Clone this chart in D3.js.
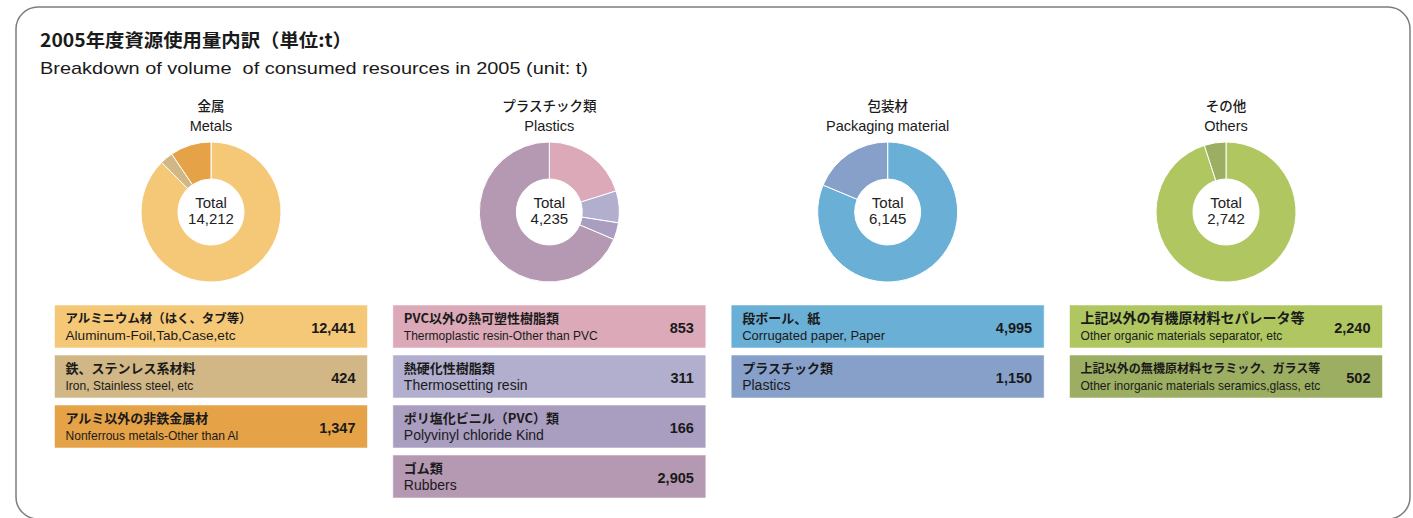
<!DOCTYPE html>
<html>
<head>
<meta charset="utf-8">
<script src="https://cdn.jsdelivr.net/npm/d3@7"></script>
<style>
  body { margin: 0; background: #fff; }
  svg { display: block; }
</style>
</head>
<body>
<script>
var svgWidth = 1413;
var svgHeight = 518;

// group titles
var groupsJa = ["金属", "プラスチック類", "包装材", "その他"];
var groupsEn = ["Metals", "Plastics", "Packaging material", "Others"];

// items of each group
var itemsJa = [
  ["アルミニウム材（はく、タブ等）", "鉄、ステンレス系材料", "アルミ以外の非鉄金属材"],
  ["PVC以外の熱可塑性樹脂類", "熱硬化性樹脂類", "ポリ塩化ビニル（PVC）類", "ゴム類"],
  ["段ボール、紙", "プラスチック類"],
  ["上記以外の有機原材料セパレータ等", "上記以外の無機原材料セラミック、ガラス等"]
];
var itemsEn = [
  ["Aluminum-Foil,Tab,Case,etc", "Iron, Stainless steel, etc", "Nonferrous metals-Other than Al"],
  ["Thermoplastic resin-Other than PVC", "Thermosetting resin", "Polyvinyl chloride Kind", "Rubbers"],
  ["Corrugated paper, Paper", "Plastics"],
  ["Other organic materials separator, etc", "Other inorganic materials seramics,glass, etc"]
];
var itemValues = [
  [12441, 424, 1347],
  [853, 311, 166, 2905],
  [4995, 1150],
  [2240, 502]
];
// slice sizes as drawn in the rings (the "Others" ring in the source
// shows the second slice much thinner than its label says)
var donutValues = [
  [12441, 424, 1347],
  [853, 311, 166, 2905],
  [4995, 1150],
  [2605, 137]
];

// styles
var itemColors = [
  ["#F5C878", "#D1B785", "#E5A246"],
  ["#DBA9B7", "#B1AECE", "#A99DC0", "#B598B2"],
  ["#6AAFD6", "#86A0CA"],
  ["#AFC661", "#9CAE62"]
];
// max widths of the text lines in the boxes
var enMaxW = [
  [170, 128, 173],
  [194, 999, 999, 999],
  [143, 999],
  [202, 240]
];
var jaSize = [13, 13, 13, 14];
var jaMaxW = [
  [186, 999, 999],
  [182, 999, 999, 999],
  [999, 999],
  [232, 240]
];

var jpFont = "'Noto Sans CJK JP', sans-serif";
var enFont = "'Liberation Sans', Arial, sans-serif";

// shrink the font of a text until it fits its width
function fit(sel, maxW) {
  sel.each(function(d, i) {
    var w = typeof maxW === "function" ? maxW(d, i) : maxW;
    var len = this.getComputedTextLength();
    if (len > w) {
      var fs = parseFloat(d3.select(this).attr("font-size"));
      d3.select(this).attr("font-size", (fs * w / len).toFixed(2));
    }
  });
}

var svg = d3.select("body")
  .append("svg")
  .attr("width", svgWidth)
  .attr("height", svgHeight);

// frame
svg.append("rect")
  .attr("x", 16)
  .attr("y", 7)
  .attr("width", 1394)
  .attr("height", 512)
  .attr("rx", 22)
  .attr("fill", "none")
  .attr("stroke", "#7d7d7d")
  .attr("stroke-width", 1.5);

svg.append("text")
  .attr("x", 40)
  .attr("y", 47)
  .attr("font-family", jpFont)
  .attr("font-weight", 700)
  .attr("font-size", 18.5)
  .attr("fill", "#1a1a1a")
  .text("2005年度資源使用量内訳（単位:t）")
  .attr("textLength", 312)
  .attr("lengthAdjust", "spacingAndGlyphs");

svg.append("text")
  .attr("x", 40)
  .attr("y", 74)
  .attr("font-family", enFont)
  .attr("font-size", 17)
  .attr("fill", "#1a1a1a")
  .style("white-space", "pre")
  .text("Breakdown of volume  of consumed resources in 2005 (unit: t)")
  .attr("textLength", 548)
  .attr("lengthAdjust", "spacingAndGlyphs");

// column centres
var xCol = d3.scalePoint()
  .domain(groupsEn)
  .range([211, 1226]);

var cy = 212;
var boxW = 313, boxH = 43, boxTop = 305, boxStep = 50;

var pie = d3.pie().sort(null).value(function(d) { return d; });
var arc = d3.arc().innerRadius(33).outerRadius(70);

groupsEn.forEach(function(g, gi) {
  var cx = xCol(g);
  var col = svg.append("g");

  col.append("text")
    .attr("x", cx).attr("y", 111)
    .attr("text-anchor", "middle")
    .attr("font-family", jpFont)
    .attr("font-weight", 500)
    .attr("font-size", 13.5)
    .attr("fill", "#1a1a1a")
    .text(groupsJa[gi]);

  col.append("text")
    .attr("x", cx).attr("y", 131)
    .attr("text-anchor", "middle")
    .attr("font-family", enFont)
    .attr("font-size", 14.5)
    .attr("fill", "#1a1a1a")
    .text(g);

  // donut
  var donut = col.append("g")
    .attr("transform", "translate(" + cx + "," + cy + ")");

  donut.selectAll("path")
    .data(pie(donutValues[gi]))
    .enter().append("path")
    .attr("d", arc)
    .attr("fill", function(d, i) { return itemColors[gi][i]; })
    .attr("stroke", "#fff")
    .attr("stroke-width", 1);

  var total = d3.sum(itemValues[gi]);
  donut.append("text")
    .attr("y", -4)
    .attr("text-anchor", "middle")
    .attr("font-family", enFont)
    .attr("font-size", 15)
    .attr("fill", "#222")
    .text("Total");
  donut.append("text")
    .attr("y", 12)
    .attr("text-anchor", "middle")
    .attr("font-family", enFont)
    .attr("font-size", 15)
    .attr("fill", "#222")
    .text(d3.format(",")(total));

  // legend boxes
  var x0 = cx - boxW / 2;
  var rows = col.selectAll("g.row")
    .data(itemValues[gi])
    .enter().append("g")
    .attr("class", "row")
    .attr("transform", function(d, i) {
      return "translate(" + x0 + "," + (boxTop + i * boxStep) + ")";
    });

  rows.append("rect")
    .attr("width", boxW)
    .attr("height", boxH)
    .attr("fill", function(d, i) { return itemColors[gi][i]; })
    .attr("stroke", "rgba(255,255,255,0.55)")
    .attr("stroke-width", 1);

  rows.append("text")
    .attr("x", 11).attr("y", 18)
    .attr("font-family", jpFont)
    .attr("font-weight", 700)
    .attr("font-size", jaSize[gi])
    .attr("fill", "#1a1a1a")
    .text(function(d, i) { return itemsJa[gi][i]; })
    .call(fit, function(d, i) { return jaMaxW[gi][i]; });

  rows.append("text")
    .attr("x", 11).attr("y", 35)
    .attr("font-family", enFont)
    .attr("font-size", 14)
    .attr("fill", "#1a1a1a")
    .text(function(d, i) { return itemsEn[gi][i]; })
    .call(fit, function(d, i) { return enMaxW[gi][i]; });

  rows.append("text")
    .attr("x", boxW - 12).attr("y", 28)
    .attr("text-anchor", "end")
    .attr("font-family", enFont)
    .attr("font-weight", 700)
    .attr("font-size", 14.5)
    .attr("fill", "#1a1a1a")
    .text(function(d) { return d3.format(",")(d); });
});
</script>
</body>
</html>
